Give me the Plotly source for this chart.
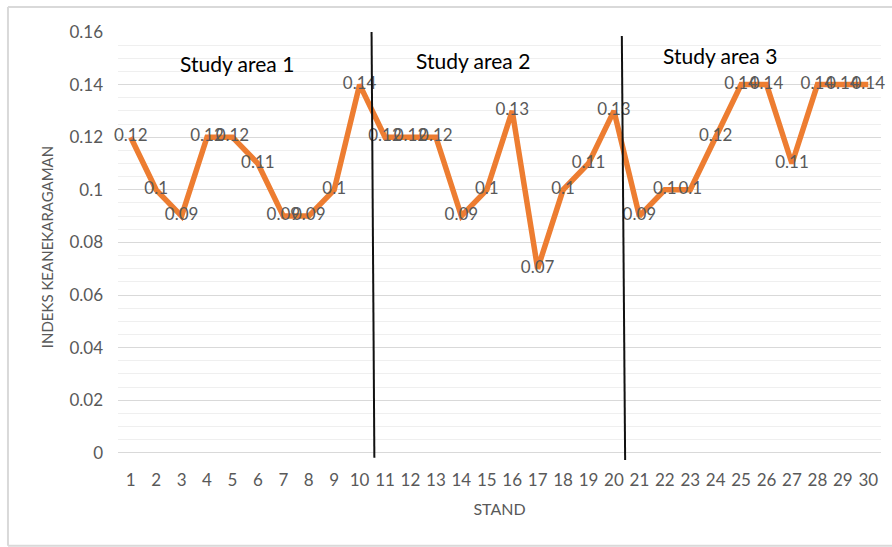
import plotly.graph_objects as go

stands = list(range(1, 31))
diversity_index = [0.12, 0.1, 0.09, 0.12, 0.12, 0.11, 0.09, 0.09, 0.1, 0.14,
                   0.12, 0.12, 0.12, 0.09, 0.1, 0.13, 0.07, 0.1, 0.11, 0.13,
                   0.09, 0.1, 0.1, 0.12, 0.14, 0.14, 0.11, 0.14, 0.14, 0.14]
value_labels = [f"{v:g}" for v in diversity_index]
area_names = ["Study area 1", "Study area 2", "Study area 3"]
y_tick_values = [0, 0.02, 0.04, 0.06, 0.08, 0.1, 0.12, 0.14, 0.16]
y_tick_labels = ["0", "0.02", "0.04", "0.06", "0.08", "0.1", "0.12", "0.14", "0.16"]

FONT = "Lato, 'Open Sans', sans-serif"
GRAY = "#595959"

fig = go.Figure()
fig.add_trace(go.Scatter(
    x=stands, y=diversity_index, mode="lines+text",
    text=value_labels, textposition="middle center",
    textfont=dict(family=FONT, size=17, color=GRAY),
    line=dict(color="#ED7D31", width=5.5),
    cliponaxis=False, showlegend=False,
))

# separators between study areas
fig.add_shape(type="line", xref="x", yref="y", x0=10.47, y0=0.16, x1=10.58, y1=-0.0019,
              line=dict(color="#111111", width=2))
fig.add_shape(type="line", xref="x", yref="y", x0=20.31, y0=0.1585, x1=20.44, y1=-0.0027,
              line=dict(color="#111111", width=2))

# outer chart border (top, left, bottom; right edge is outside the picture)
BL, BR, BB, BT = -0.1442, 1.1, -0.195, 1.058
for (bx0, by0, bx1, by1) in [(BL, BT, BR, BT), (BL, BB, BL, BT), (BL, BB, BR, BB)]:
    fig.add_shape(type="line", xref="paper", yref="paper", x0=bx0, y0=by0, x1=bx1, y1=by1,
                  line=dict(color="#D9D9D9", width=2), layer="below")

area_pos = [(5.19, 0.1482), (14.46, 0.149), (24.16, 0.1509)]
for name, (ax, ay) in zip(area_names, area_pos):
    fig.add_annotation(x=ax, y=ay, xref="x", yref="y", text=name, showarrow=False,
                       font=dict(family=FONT, size=21, color="#000000"))

fig.update_layout(
    width=892, height=547,
    margin=dict(l=118, r=11, t=32, b=85, autoexpand=False),
    paper_bgcolor="white", plot_bgcolor="white",
    font=dict(family=FONT, color=GRAY),
)
fig.update_xaxes(
    range=[0.5, 30.5], tickmode="array", tickvals=stands, ticktext=[str(s) for s in stands],
    showgrid=False, zeroline=False, showline=False, automargin=False,
    tickfont=dict(family=FONT, size=17, color=GRAY), ticklabelstandoff=6,
    title=dict(text="STAND", font=dict(family=FONT, size=16, color=GRAY), standoff=14),
)
fig.update_yaxes(
    range=[-0.0035, 0.16], tickmode="array", tickvals=y_tick_values, ticktext=y_tick_labels,
    showgrid=True, gridcolor="#D9D9D9", gridwidth=1, zeroline=False, showline=False,
    automargin=False,
    minor=dict(dtick=0.005, tick0=0, showgrid=True, gridcolor="#EFEFEF", gridwidth=1),
    tickfont=dict(family=FONT, size=17, color=GRAY), ticklabelstandoff=14,
    title=dict(text="INDEKS KEANEKARAGAMAN", font=dict(family=FONT, size=15, color=GRAY), standoff=12),
)

fig.write_html("out.html", config={"displayModeBar": False},
               post_script="document.body.style.margin='0';")
